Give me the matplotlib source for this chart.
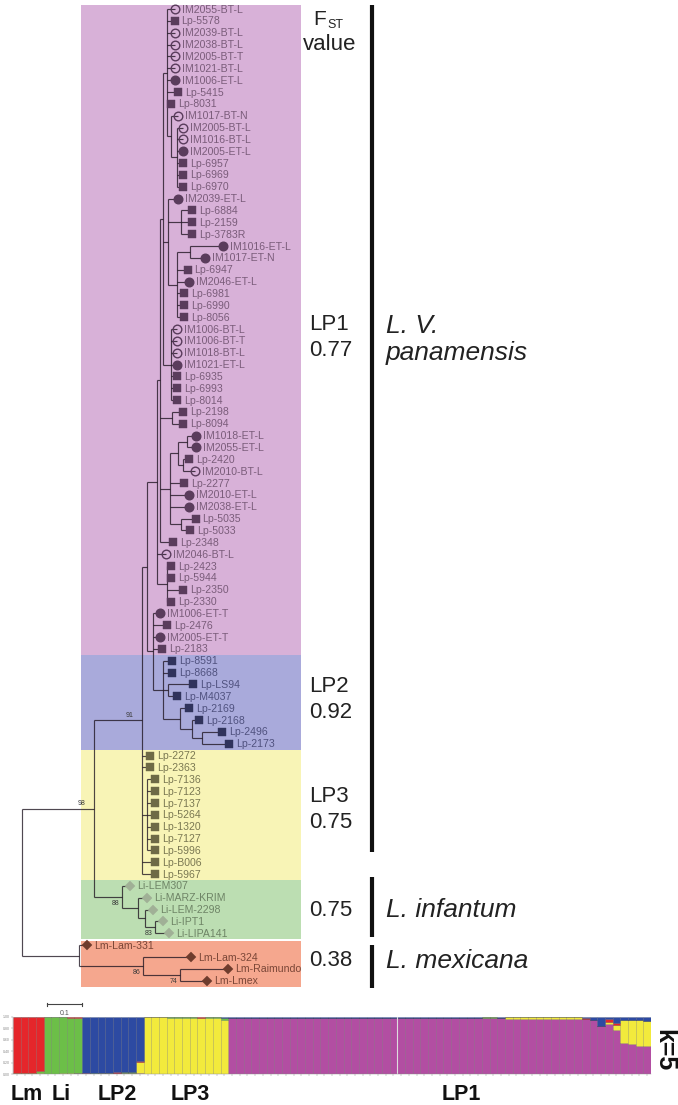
import matplotlib
matplotlib.use("Agg")
import matplotlib.pyplot as plt
from matplotlib.patches import Rectangle
import numpy as np

plt.rcParams['font.family'] = ['Liberation Sans', 'DejaVu Sans']

# ---- tree (newick pieces, branch lengths in substitutions/site) ----
t1 = ("(IM2055-BT-L:0.023,Lp-5578:0.023,IM2039-BT-L:0.023,IM2038-BT-L:0.023,"
      "IM2005-BT-T:0.023,IM1021-BT-L:0.023,IM1006-ET-L:0.023,Lp-5415:0.034,Lp-8031:0.014,"
      "(IM1017-BT-N:0.020,(IM2005-BT-L:0.017,IM1016-BT-L:0.017,IM2005-ET-L:0.017,"
      "Lp-6957:0.017,Lp-6969:0.017,Lp-6970:0.017):0.017):0.014):0.009")
t2 = ("(IM2039-ET-L:0.029,(Lp-6884:0.031,Lp-2159:0.031,Lp-3783R:0.031):0.037,"
      "((IM1016-ET-L:0.094,IM1017-ET-N:0.043):0.037,Lp-6947:0.029,IM2046-ET-L:0.034,"
      "Lp-6981:0.020,Lp-6990:0.020,Lp-8056:0.020):0.026):0.014")
t3 = ("(IM1006-BT-L:0.017,IM1006-BT-T:0.017,IM1018-BT-L:0.017,IM1021-ET-L:0.017,"
      "Lp-6935:0.017,Lp-6993:0.017,Lp-8014:0.017):0.023")
t4 = "(Lp-2198:0.031,Lp-8094:0.031):0.034"
c4 = ("(((IM1018-ET-L:0.026,IM2055-ET-L:0.026):0.023,(Lp-2420:0.017,IM2010-BT-L:0.034):0.014):0.023,"
      "Lp-2277:0.040,IM2010-ET-L:0.054,IM2038-ET-L:0.054,(Lp-5035:0.043,Lp-5033:0.026):0.029):0.029")
c5 = "(Lp-2423:0.011,Lp-5944:0.011,Lp-2350:0.046,Lp-2330:0.011):0.029"
c3 = "(" + t1 + "," + t2 + "," + t3 + "):0.009"
c2 = "(" + c3 + "," + t4 + "," + c4 + ",Lp-2348:0.037):0.009"
c1 = "(" + c2 + ",IM2046-BT-L:0.026," + c5 + "):0.029"
lp2 = ("(Lp-8591:0.026,Lp-8668:0.026,(Lp-LS94:0.071,Lp-M4037:0.026):0.014,"
       "(Lp-2169:0.026,(Lp-2168:0.020,(Lp-2496:0.057,Lp-2173:0.077):0.029):0.034):0.049):0.029")
clade_b = "(IM1006-ET-T:0.020,Lp-2476:0.040,IM2005-ET-T:0.020,Lp-2183:0.026," + lp2 + "):0.017"
clade_a = "(" + c1 + "," + clade_b + "):0.014"
lp3 = ("Lp-2272:0.023,Lp-2363:0.023,(Lp-7136:0.023,Lp-7123:0.023,Lp-7137:0.023,Lp-5264:0.023,"
       "Lp-1320:0.023,Lp-7127:0.023,Lp-5996:0.023):0.014,Lp-B006:0.037,Lp-5967:0.037")
li = ("(Li-LEM307:0.023,(Li-MARZ-KRIM:0.026,(Li-LEM-2298:0.023,(Li-IPT1:0.023,"
      "Li-LIPA141:0.040)83:0.029):0.020):0.046)88:0.080")
lm = ("(Lm-Lam-331:0.023,(Lm-Lam-324:0.137,(Lm-Raimundo:0.137,Lm-Lmex:0.077)74:0.106)86:0.183):0.163")
newick = "(((" + clade_a + "," + lp3 + ")91:0.137," + li + ")98:0.206," + lm + ");"

group_names = ['LP1', 'LP2', 'LP3', 'Li', 'Lm']
group_sizes = [55, 8, 11, 5, 4]
bg_colors = ['#d8b1d8', '#a9aadb', '#f8f4b6', '#bcdeb2', '#f5a78e']
mk_colors = ['#5a3c5c', '#30335c', '#6e6a46', '#a0b096', '#6e3c2d']
tx_colors = ['#7a5c7a', '#50527f', '#7a7852', '#6e8466', '#7a4637']

fst_labels = [('LP1', '0.77'), ('LP2', '0.92'), ('LP3', '0.75'), ('', '0.75'), ('', '0.38')]
species = [['L. V.', 'panamensis'], ['L. infantum'], ['L. mexicana']]

# ---- STRUCTURE k=5 membership (order: Lm, Li, LP2, LP3, LP1) ----
q_magenta = ([0.004, 0.004, 0.005, 0.006] +
             [0.004, 0.005, 0.006, 0.008, 0.012] +
             [0.004, 0.005, 0.006, 0.008, 0.010, 0.012, 0.020, 0.015] +
             [0.003, 0.003, 0.004, 0.003, 0.004, 0.004, 0.005, 0.005, 0.006, 0.006, 0.008] +
             [0.985, 0.985, 0.985, 0.985, 0.985, 0.985, 0.985, 0.985, 0.985, 0.985, 0.985,
              0.985, 0.985, 0.985, 0.985, 0.985, 0.985, 0.985, 0.985, 0.985, 0.985, 0.985,
              0.985, 0.985, 0.985, 0.985, 0.985, 0.985, 0.985, 0.985, 0.985, 0.985,
              0.980, 0.980, 0.978, 0.978,
              0.970, 0.970, 0.970, 0.970, 0.970, 0.970, 0.970, 0.970, 0.970, 0.970,
              0.960, 0.940, 0.840, 0.870, 0.780, 0.540, 0.520, 0.500, 0.500])
q_yellow = ([0.002, 0.003, 0.003, 0.006] +
            [0.002, 0.003, 0.004, 0.006, 0.010] +
            [0.002, 0.003, 0.004, 0.005, 0.006, 0.006, 0.004, 0.200] +
            [0.990, 0.990, 0.988, 0.988, 0.986, 0.985, 0.984, 0.978, 0.982, 0.975, 0.935] +
            [0.000, 0.000, 0.000, 0.000, 0.000, 0.000, 0.000, 0.000, 0.000, 0.000, 0.000,
             0.000, 0.000, 0.000, 0.000, 0.000, 0.000, 0.000, 0.000, 0.000, 0.000, 0.000,
             0.000, 0.000, 0.000, 0.000, 0.000, 0.000, 0.000, 0.000, 0.000, 0.000,
             0.010, 0.005, 0.000, 0.000,
             0.030, 0.030, 0.030, 0.030, 0.030, 0.030, 0.030, 0.030, 0.030, 0.030,
             0.000, 0.000, 0.000, 0.040, 0.080, 0.410, 0.430, 0.440, 0.430])
q_green = ([0.006, 0.010, 0.015, 0.035] +
           [0.988, 0.985, 0.982, 0.975, 0.965] +
           [0.002, 0.003, 0.005, 0.006, 0.010, 0.010, 0.004, 0.004] +
           [0.003, 0.003, 0.003, 0.004, 0.004, 0.005, 0.005, 0.008, 0.006, 0.015, 0.045] +
           [0.000, 0.000, 0.000, 0.000, 0.000, 0.000, 0.000, 0.000, 0.000, 0.000, 0.000,
            0.000, 0.000, 0.000, 0.000, 0.000, 0.000, 0.000, 0.000, 0.000, 0.000, 0.000,
            0.000, 0.000, 0.000, 0.000, 0.000, 0.000, 0.000, 0.000, 0.000, 0.000,
            0.000, 0.010, 0.020, 0.000,
            0.000, 0.000, 0.000, 0.000, 0.000, 0.000, 0.000, 0.000, 0.000, 0.000,
            0.000, 0.000, 0.000, 0.000, 0.000, 0.000, 0.000, 0.000, 0.000])
q_red = ([0.986, 0.981, 0.975, 0.951] +
         [0.004, 0.005, 0.006, 0.008, 0.010] +
         [0.002, 0.002, 0.002, 0.002, 0.002, 0.002, 0.002, 0.002] +
         [0.002, 0.002, 0.003, 0.003, 0.003, 0.003, 0.003, 0.004, 0.003, 0.002, 0.002] +
         [0.000, 0.000, 0.000, 0.000, 0.000, 0.000, 0.000, 0.000, 0.000, 0.000, 0.000,
          0.000, 0.000, 0.000, 0.000, 0.000, 0.000, 0.000, 0.000, 0.000, 0.000, 0.000,
          0.000, 0.000, 0.000, 0.000, 0.000, 0.000, 0.000, 0.000, 0.000, 0.000,
          0.000, 0.000, 0.000, 0.000,
          0.000, 0.000, 0.000, 0.000, 0.000, 0.000, 0.000, 0.000, 0.000, 0.000,
          0.030, 0.000, 0.000, 0.050, 0.040, 0.000, 0.000, 0.000, 0.000])
q_blue = ([0.002, 0.002, 0.002, 0.002] +
          [0.002, 0.002, 0.002, 0.003, 0.003] +
          [0.990, 0.987, 0.983, 0.979, 0.972, 0.970, 0.970, 0.779] +
          [0.002, 0.002, 0.002, 0.002, 0.003, 0.003, 0.003, 0.005, 0.003, 0.002, 0.010] +
          [0.015, 0.015, 0.015, 0.015, 0.015, 0.015, 0.015, 0.015, 0.015, 0.015, 0.015,
           0.015, 0.015, 0.015, 0.015, 0.015, 0.015, 0.015, 0.015, 0.015, 0.015, 0.015,
           0.015, 0.015, 0.015, 0.015, 0.015, 0.015, 0.015, 0.015, 0.015, 0.015,
           0.010, 0.005, 0.002, 0.022,
           0.000, 0.000, 0.000, 0.000, 0.000, 0.000, 0.000, 0.000, 0.000, 0.000,
           0.010, 0.060, 0.160, 0.040, 0.100, 0.050, 0.050, 0.060, 0.070])
struct_groups = ['Lm', 'Li', 'LP2', 'LP3', 'LP1']
struct_sizes = [4, 5, 8, 11, 55]
struct_colors = ['#b24ea2', '#f2ea3c', '#6cbf48', '#e5262b', '#2d4aa2']  # bottom -> top


def parse_newick(s):
    pos = 0

    def node():
        nonlocal pos
        n = {'children': [], 'name': '', 'len': 0.0}
        if s[pos] == '(':
            pos += 1
            while True:
                n['children'].append(node())
                ch = s[pos]
                pos += 1
                if ch == ')':
                    break
        start = pos
        while s[pos] not in ':,);':
            pos += 1
        n['name'] = s[start:pos]
        if s[pos] == ':':
            pos += 1
            start = pos
            while s[pos] not in ',);':
                pos += 1
            n['len'] = float(s[start:pos])
        return n
    return node()


tree = parse_newick(newick)
leaves = []


def layout(n, x0):
    n['x'] = x0 + n['len']
    if n['children']:
        for c in n['children']:
            layout(c, n['x'])
        n['y'] = (n['children'][0]['y'] + n['children'][-1]['y']) / 2
    else:
        n['y'] = len(leaves)
        leaves.append(n)


layout(tree, 0.0)
group_of = np.repeat(np.arange(len(group_sizes)), group_sizes)

W, H = 678, 1105
fig = plt.figure(figsize=(W / 100, H / 100), dpi=100)

# tree axes: x in substitutions/site, y in leaf index
px_per_unit, px_per_leaf, root_px, leaf0_px = 350.0, 11.85, 22.0, 9.0
ax = fig.add_axes([0, 0, 1, 1])
ax.set_xlim(-root_px / px_per_unit, (W - root_px) / px_per_unit)
ax.set_ylim((H - leaf0_px) / px_per_leaf, -leaf0_px / px_per_leaf)
ax.axis('off')

# clade backgrounds
bg_x0, bg_x1 = 0.169, 0.797
start = 0
for g, size in enumerate(group_sizes):
    y0 = start - 0.5
    y1 = start + size - 0.5
    if g == 0:
        y0 = -0.35
    if g == len(group_sizes) - 1:
        y0 += 0.12
    ax.add_patch(Rectangle((bg_x0, y0), bg_x1 - bg_x0, y1 - y0, facecolor=bg_colors[g],
                           edgecolor='none', zorder=0))
    start += size

line_kw = dict(color='#1e1420', alpha=0.78, lw=0.85, solid_capstyle='butt', zorder=2)
boot_above = ['91', '98']


def draw(n):
    if not n['children']:
        return
    ys = [c['y'] for c in n['children']]
    ax.plot([n['x'], n['x']], [min(ys), max(ys)], **line_kw)
    for c in n['children']:
        ax.plot([n['x'], c['x']], [c['y'], c['y']], **line_kw)
        draw(c)
    if n['name']:
        if n['name'] in boot_above:
            ax.text(n['x'] - 0.025, n['y'] - 0.15, n['name'], ha='right', va='bottom',
                    fontsize=5, color='#3a3a3a', zorder=4)
        else:
            ax.text(n['x'] - 0.008, n['y'] + 0.25, n['name'], ha='right', va='top',
                    fontsize=5, color='#3a3a3a', zorder=4)


draw(tree)

for i, lf in enumerate(leaves):
    g = group_of[i]
    name = lf['name']
    c = mk_colors[g]
    if name.startswith('IM'):
        face = c if '-ET-' in name else 'none'
        ax.plot(lf['x'], lf['y'], 'o', ms=6.2, mfc=face, mec=c, mew=1.0, zorder=3)
    elif name.startswith('Lp'):
        ax.plot(lf['x'], lf['y'], 's', ms=5.6, mfc=c, mec=c, mew=0.3, zorder=3)
    else:
        ax.plot(lf['x'], lf['y'], 'D', ms=5.2, mfc=c, mec=c, mew=0.3, zorder=3)
    ax.text(lf['x'] + 0.02, lf['y'] + 0.05, name, fontsize=7.6, color=tx_colors[g],
            va='center', ha='left', zorder=4)

# scale bar (0.1)
sb_y = len(leaves) + 1.0
sb_x = 0.0714
ax.plot([sb_x, sb_x + 0.1], [sb_y, sb_y], color='#444444', lw=0.8)
for xx in (sb_x, sb_x + 0.1):
    ax.plot([xx, xx], [sb_y - 0.15, sb_y + 0.15], color='#444444', lw=0.8)
ax.text(sb_x + 0.05, sb_y + 0.45, '0.1', fontsize=5, color='#555555', ha='center', va='top')

# overlay in pixel coordinates for annotations
ov = fig.add_axes([0, 0, 1, 1])
ov.set_xlim(0, W)
ov.set_ylim(H, 0)
ov.axis('off')

ov.text(313, 25, 'F', fontsize=15, color='#222222', va='baseline')
ov.text(327, 28, 'ST', fontsize=9, color='#222222', va='baseline')
ov.text(330, 50, 'value', fontsize=16, color='#222222', va='baseline', ha='center')
fst_y = [(325, 351), (686, 712), (797, 823), (None, 911), (None, 961)]
for (lab, val), (y1, y2) in zip(fst_labels, fst_y):
    if lab:
        ov.text(309, y1, lab, fontsize=16, color='#222222', va='center')
    ov.text(309, y2, val, fontsize=16, color='#222222', va='center')

bars_y = [(5, 852), (877, 937), (945, 988)]
sp_y = [(326, 353), (910,), (961,)]
for (ya, yb), sp, yts in zip(bars_y, species, sp_y):
    ov.plot([372, 372], [ya, yb], color='#111111', lw=3.0, solid_capstyle='butt')
    for line, yt in zip(sp, yts):
        ov.text(386, yt, line, fontsize=19, style='italic', color='#222222', va='center')

# group labels under structure plot
lab_x = [27, 61, 117, 190, 461]
for lab, xx in zip(struct_groups, lab_x):
    ov.text(xx, 1094, lab, fontsize=15.5, fontweight='bold', color='#111111', ha='center',
            va='center')
ov.text(664, 1050, 'k=5', fontsize=18, fontweight='bold', color='#111111', rotation=270,
        ha='center', va='center')

# ---- STRUCTURE bar plot ----
axs = fig.add_axes([13 / W, (H - 1074) / H, 638 / W, 57 / H])
axs.set_zorder(5)
q = np.array([q_magenta, q_yellow, q_green, q_red, q_blue])
q = q / q.sum(axis=0)
xs = np.arange(q.shape[1])
bottom = np.zeros(q.shape[1])
for k in range(q.shape[0]):
    axs.bar(xs, q[k], bottom=bottom, width=1.0, color=struct_colors[k],
            edgecolor=(0, 0, 0, 0.22), linewidth=0.4)
    bottom += q[k]
axs.axvline(49.5, color='#dddddd', lw=0.8)
axs.set_xlim(-0.5, len(xs) - 0.5)
axs.set_ylim(0, 1)
axs.set_yticks([0, 0.2, 0.4, 0.6, 0.8, 1.0])
axs.set_yticklabels(['0.00', '0.20', '0.40', '0.60', '0.80', '1.00'], fontsize=2.5, color='#555555')
axs.set_xticks(xs)
axs.set_xticklabels([])
axs.tick_params(axis='both', length=1.5, width=0.3, colors='#888888', pad=1)
for sp_name in ('top', 'right'):
    axs.spines[sp_name].set_visible(False)
axs.spines['left'].set_linewidth(0.3)
axs.spines['bottom'].set_linewidth(0.3)
axs.spines['left'].set_color('#888888')
axs.spines['bottom'].set_color('#888888')

fig.savefig('out.png', dpi=100)
